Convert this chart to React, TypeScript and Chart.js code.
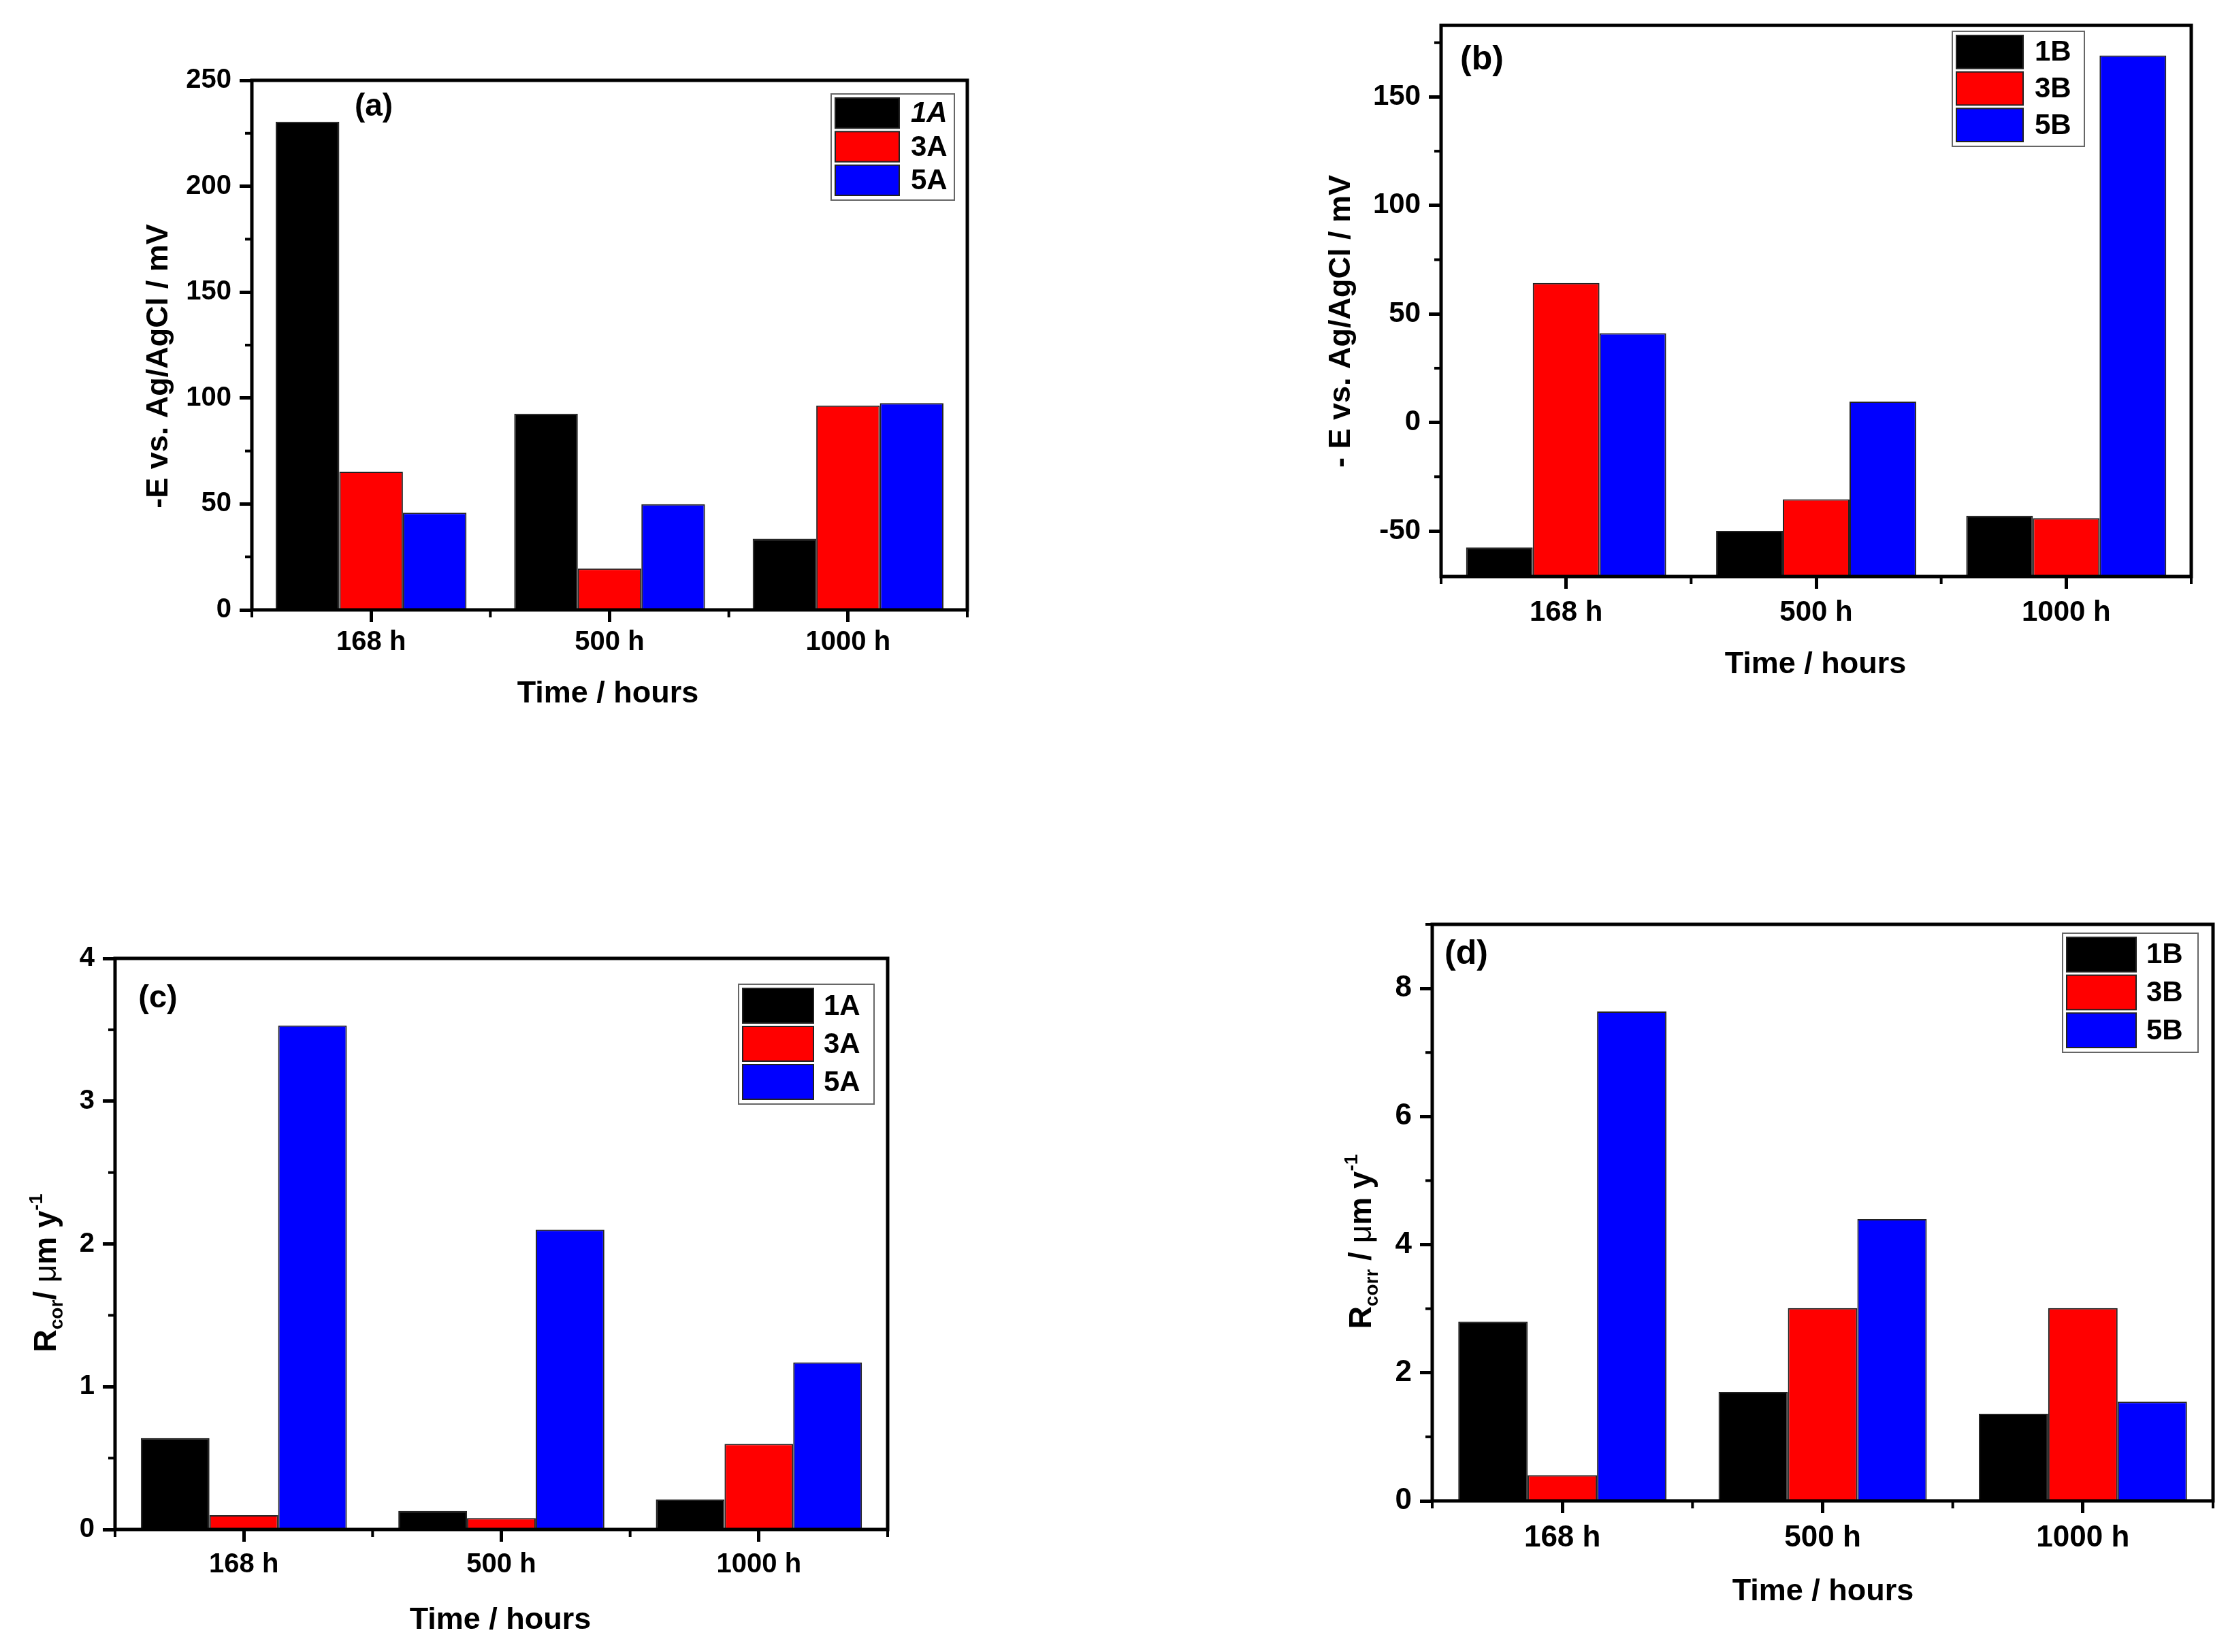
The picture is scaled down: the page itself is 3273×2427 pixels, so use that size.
import React, { useEffect, useRef } from 'react';
import { Chart, registerables } from 'chart.js';

Chart.register(...registerables);

// ---------------- data ----------------
const categories = ['168 h', '500 h', '1000 h'];
const seriesNamesA = ['1A', '3A', '5A'];
const seriesNamesB = ['1B', '3B', '5B'];

// (a) -E vs Ag/AgCl (mV), series A
const potential1A = [230.5, 92.6, 33.6];
const potential3A = [65.2, 19.5, 96.5];
const potential5A = [45.9, 49.9, 97.6];
// (b) -E vs Ag/AgCl (mV), series B
const potential1B = [-57.6, -50.0, -43.0];
const potential3B = [64.3, -35.4, -44.1];
const potential5B = [41.1, 9.6, 169.1];
// (c) corrosion rate (um/y), series A
const rate1A = [0.64, 0.13, 0.21];
const rate3A = [0.10, 0.08, 0.60];
const rate5A = [3.53, 2.10, 1.17];
// (d) corrosion rate (um/y), series B
const rate1B = [2.80, 1.70, 1.36];
const rate3B = [0.40, 3.01, 3.01];
const rate5B = [7.64, 4.40, 1.55];

// tick values
const ticksPotA = [0, 50, 100, 150, 200, 250];
const minorPotA = [25, 75, 125, 175, 225];
const ticksPotB = [-50, 0, 50, 100, 150];
const minorPotB = [-25, 25, 75, 125, 175];
const ticksRateA = [0, 1, 2, 3, 4];
const minorRateA = [0.5, 1.5, 2.5, 3.5];
const ticksRateB = [0, 2, 4, 6, 8];
const minorRateB = [1, 3, 5, 7, 9];

// ---------------- styles ----------------
const COLORS = ['#000000', '#ff0000', '#0000ff'];
const FONT = '"Liberation Sans", Arial, Helvetica, sans-serif';

type Seg = { t: string; size: number; weight?: string; dy?: number };

type Panel = {
  canvas: { x: number; y: number; w: number; h: number };
  area: { l: number; t: number; r: number; b: number };
  names: string[];
  italicFirst?: boolean;
  data: number[][];
  yMin: number;
  yMax: number;
  yTicks: number[];
  yMinor: number[];
  base?: number;
  tickSize: number;
  xPad: number;
  panelLabel: string;
  panelPos: [number, number];
  panelSize: number;
  yTitle: Seg[];
  yTitlePos: [number, number];
  xTitlePos: [number, number];
  legend: { x: number; y: number; w: number; h: number; sw: number; tx: number };
};

const panels: Panel[] = [
  {
    canvas: { x: 0, y: 0, w: 1636, h: 1150 },
    area: { l: 370, t: 118, r: 1421, b: 896 },
    names: seriesNamesA,
    italicFirst: true,
    data: [potential1A, potential3A, potential5A],
    yMin: 0,
    yMax: 250,
    yTicks: ticksPotA,
    yMinor: minorPotA,
    tickSize: 40,
    xPad: 6,
    panelLabel: '(a)',
    panelPos: [549, 157],
    panelSize: 46,
    yTitle: [{ t: '-E vs. Ag/AgCl / mV', size: 45 }],
    yTitlePos: [230, 538],
    xTitlePos: [893, 1016],
    legend: { x: 1221, y: 138, w: 181, h: 156, sw: 94, tx: 1338 },
  },
  {
    canvas: { x: 1636, y: 0, w: 1637, h: 1150 },
    area: { l: 2117, t: 33, r: 3219, b: 847 },
    names: seriesNamesB,
    data: [potential1B, potential3B, potential5B],
    yMin: -71,
    yMax: 183,
    yTicks: ticksPotB,
    yMinor: minorPotB,
    base: -71,
    tickSize: 42,
    xPad: 10,
    panelLabel: '(b)',
    panelPos: [2177, 88],
    panelSize: 50,
    yTitle: [{ t: '- E vs. Ag/AgCl / mV', size: 45 }],
    yTitlePos: [1967, 472],
    xTitlePos: [2667, 973],
    legend: { x: 2868, y: 46, w: 194, h: 169, sw: 98, tx: 2989 },
  },
  {
    canvas: { x: 0, y: 1200, w: 1636, h: 1227 },
    area: { l: 169, t: 1408, r: 1304, b: 2247 },
    names: seriesNamesA,
    data: [rate1A, rate3A, rate5A],
    yMin: 0,
    yMax: 4,
    yTicks: ticksRateA,
    yMinor: minorRateA,
    tickSize: 40,
    xPad: 10,
    panelLabel: '(c)',
    panelPos: [232, 1467],
    panelSize: 47,
    yTitle: [
      { t: 'R', size: 46 },
      { t: 'cor', size: 28, dy: 10 },
      { t: '/ ', size: 46 },
      { t: 'μ', size: 46, weight: 'normal' },
      { t: 'm y', size: 46 },
      { t: '-1', size: 28, dy: -20 },
    ],
    yTitlePos: [65, 1870],
    xTitlePos: [735, 2377],
    legend: { x: 1085, y: 1446, w: 199, h: 176, sw: 104, tx: 1210 },
  },
  {
    canvas: { x: 1636, y: 1200, w: 1637, h: 1227 },
    area: { l: 2104, t: 1358, r: 3251, b: 2205 },
    names: seriesNamesB,
    data: [rate1B, rate3B, rate5B],
    yMin: 0,
    yMax: 9,
    yTicks: ticksRateB,
    yMinor: minorRateB,
    tickSize: 44,
    xPad: 10,
    panelLabel: '(d)',
    panelPos: [2154, 1402],
    panelSize: 50,
    yTitle: [
      { t: 'R', size: 46 },
      { t: 'corr', size: 28, dy: 10 },
      { t: ' / ', size: 46 },
      { t: 'μ', size: 46, weight: 'normal' },
      { t: 'm y', size: 46 },
      { t: '-1', size: 28, dy: -20 },
    ],
    yTitlePos: [1997, 1824],
    xTitlePos: [2678, 2335],
    legend: { x: 3030, y: 1371, w: 199, h: 175, sw: 102, tx: 3153 },
  },
];

function segFont(s: Seg) {
  return `${s.weight || 'bold'} ${s.size}px ${FONT}`;
}

function drawRich(ctx: CanvasRenderingContext2D, segs: Seg[], x: number, y: number, rotate: boolean) {
  ctx.save();
  ctx.translate(x, y);
  if (rotate) ctx.rotate(-Math.PI / 2);
  let total = 0;
  const widths: number[] = [];
  segs.forEach((s) => {
    ctx.font = segFont(s);
    const w = ctx.measureText(s.t).width;
    widths.push(w);
    total += w;
  });
  const main = segs[0].size;
  let pos = -total / 2;
  ctx.textAlign = 'left';
  ctx.textBaseline = 'alphabetic';
  ctx.fillStyle = '#000';
  segs.forEach((s, i) => {
    ctx.font = segFont(s);
    ctx.fillText(s.t, pos, main * 0.36 + (s.dy || 0));
    pos += widths[i];
  });
  ctx.restore();
}

function makeChart(canvas: HTMLCanvasElement, p: Panel) {
  const cx = p.canvas.x;
  const cy = p.canvas.y;
  const L = p.area.l - cx;
  const T = p.area.t - cy;
  const R = p.area.r - cx;
  const B = p.area.b - cy;

  const decor = {
    id: 'decor',
    afterDraw(chart: any) {
      const ctx: CanvasRenderingContext2D = chart.ctx;
      const { left, top, right, bottom } = chart.chartArea;
      const ys = chart.scales.y;
      const xs = chart.scales.x;
      ctx.save();
      ctx.strokeStyle = '#000';
      ctx.lineCap = 'square';
      // frame
      ctx.lineWidth = 5;
      ctx.strokeRect(left, top, right - left, bottom - top);
      // minor y ticks
      ctx.lineWidth = 4;
      ctx.lineCap = 'butt';
      p.yMinor.forEach((v) => {
        if (v < p.yMin || v > p.yMax) return;
        const py = ys.getPixelForValue(v);
        ctx.beginPath();
        ctx.moveTo(left - 10, py);
        ctx.lineTo(left, py);
        ctx.stroke();
      });
      // x boundary ticks
      const n = categories.length;
      for (let i = 0; i <= n; i++) {
        let px: number;
        if (i === 0) px = left;
        else if (i === n) px = right;
        else px = (xs.getPixelForValue(i - 1) + xs.getPixelForValue(i)) / 2;
        ctx.beginPath();
        ctx.moveTo(px, bottom);
        ctx.lineTo(px, bottom + 11);
        ctx.stroke();
      }
      // panel label
      ctx.fillStyle = '#000';
      ctx.font = `bold ${p.panelSize}px ${FONT}`;
      ctx.textAlign = 'center';
      ctx.textBaseline = 'middle';
      ctx.fillText(p.panelLabel, p.panelPos[0] - cx, p.panelPos[1] - cy);
      // axis titles
      drawRich(ctx, [{ t: 'Time / hours', size: 45 }], p.xTitlePos[0] - cx, p.xTitlePos[1] - cy, false);
      drawRich(ctx, p.yTitle, p.yTitlePos[0] - cx, p.yTitlePos[1] - cy, true);
      // legend
      const lg = p.legend;
      const lx = lg.x - cx;
      const ly = lg.y - cy;
      ctx.fillStyle = '#fff';
      ctx.fillRect(lx, ly, lg.w, lg.h);
      ctx.strokeStyle = '#666';
      ctx.lineWidth = 2;
      ctx.strokeRect(lx, ly, lg.w, lg.h);
      const pad = 4;
      const rowH = (lg.h - 2 * pad) / p.names.length;
      p.names.forEach((name, i) => {
        const ry = ly + pad + i * rowH;
        ctx.fillStyle = COLORS[i];
        ctx.fillRect(lx + 6, ry + 2, lg.sw, rowH - 5);
        ctx.strokeStyle = '#222';
        ctx.lineWidth = 2;
        ctx.strokeRect(lx + 6, ry + 2, lg.sw, rowH - 5);
        ctx.fillStyle = '#000';
        const italic = p.italicFirst && i === 0 ? 'italic ' : '';
        ctx.font = `${italic}bold 42px ${FONT}`;
        ctx.textAlign = 'left';
        ctx.textBaseline = 'middle';
        ctx.fillText(name, lg.tx - cx, ry + rowH / 2 + 1);
      });
      ctx.restore();
    },
  };

  return new Chart(canvas, {
    type: 'bar',
    data: {
      labels: categories,
      datasets: p.data.map((d, i) => ({
        label: p.names[i],
        data: d,
        backgroundColor: COLORS[i],
        borderColor: '#222',
        borderWidth: 2,
        base: p.base,
        categoryPercentage: 0.8,
        barPercentage: 1.0,
      })) as any,
    },
    options: {
      responsive: false,
      animation: false,
      devicePixelRatio: 1,
      layout: {
        padding: { left: 0, top: T, right: p.canvas.w - R, bottom: 0 },
      },
      plugins: {
        legend: { display: false },
        tooltip: { enabled: false },
        title: { display: false },
      },
      scales: {
        x: {
          type: 'category',
          offset: true,
          grid: {
            display: true,
            offset: false,
            drawOnChartArea: false,
            drawTicks: true,
            tickLength: 18,
            tickWidth: 5,
            tickColor: '#000',
          },
          border: { display: false },
          ticks: {
            color: '#000',
            padding: p.xPad,
            font: { family: FONT, size: p.tickSize, weight: 'bold' },
            maxRotation: 0,
            autoSkip: false,
          },
          afterFit: (s: any) => {
            s.height = p.canvas.h - B;
          },
        },
        y: {
          type: 'linear',
          min: p.yMin,
          max: p.yMax,
          afterBuildTicks: (s: any) => {
            s.ticks = p.yTicks.map((v) => ({ value: v }));
          },
          grid: {
            display: true,
            drawOnChartArea: false,
            drawTicks: true,
            tickLength: 18,
            tickWidth: 5,
            tickColor: '#000',
          },
          border: { display: false },
          ticks: {
            color: '#000',
            padding: 12,
            autoSkip: false,
            font: { family: FONT, size: p.tickSize, weight: 'bold' },
          },
          afterFit: (s: any) => {
            s.width = L;
          },
        },
      },
    } as any,
    plugins: [decor],
  });
}

function PanelCanvas({ p }: { p: Panel }) {
  const ref = useRef<HTMLCanvasElement>(null);
  useEffect(() => {
    if (!ref.current) return;
    const chart = makeChart(ref.current, p);
    return () => chart.destroy();
  }, [p]);
  return (
    <canvas
      ref={ref}
      width={p.canvas.w}
      height={p.canvas.h}
      style={{
        position: 'absolute',
        left: p.canvas.x,
        top: p.canvas.y,
        width: p.canvas.w,
        height: p.canvas.h,
      }}
    />
  );
}

export default function App() {
  useEffect(() => {
    document.body.style.margin = '0';
    document.body.style.overflow = 'hidden';
  }, []);
  return (
    <div
      style={{
        position: 'absolute',
        left: 0,
        top: 0,
        width: 3273,
        height: 2427,
        background: '#fff',
        overflow: 'hidden',
      }}
    >
      {panels.map((p, i) => (
        <PanelCanvas key={i} p={p} />
      ))}
    </div>
  );
}
